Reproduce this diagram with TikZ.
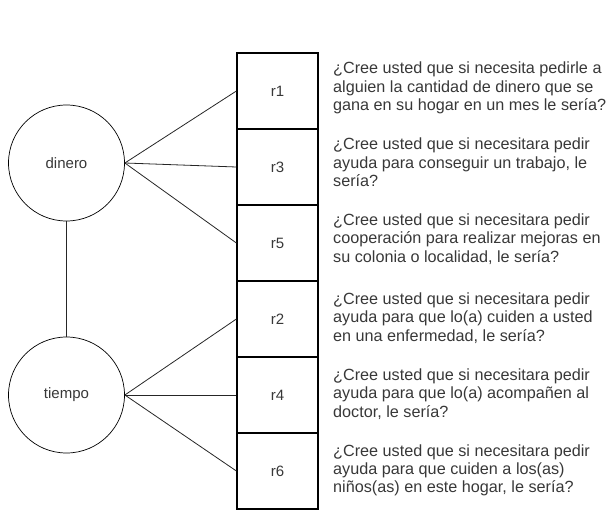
\documentclass[tikz,border=0pt]{standalone}
\usepackage{fontspec}
\setmainfont{Liberation Sans}
\definecolor{txt}{HTML}{383838}
\begin{document}
\begin{tikzpicture}[x=1pt,y=-1pt,
  rbox/.style={draw=black,line width=1.2pt,minimum width=81pt,minimum height=76pt,inner sep=0pt,text=txt,font=\fontsize{15}{18}\selectfont},
  fac/.style={circle,draw=black,line width=0.7pt,minimum size=116pt,inner sep=0pt,text=txt,font=\fontsize{15}{18}\selectfont},
  q/.style={anchor=west,align=left,inner sep=0pt,text=txt,font=\fontsize{16.2}{18.3}\selectfont},
  con/.style={draw=black!85,line width=0.8pt}]
\useasboundingbox (0,0) rectangle (610,513);
\node[rbox] (r1) at (277.5,91) {r1};
\node[rbox] (r3) at (277.5,167) {r3};
\node[rbox] (r5) at (277.5,243) {r5};
\node[rbox] (r2) at (277.5,319) {r2};
\node[rbox] (r4) at (277.5,395) {r4};
\node[rbox] (r6) at (277.5,471) {r6};
\node[fac] (dinero) at (66.5,163) {dinero};
\node[fac] (tiempo) at (66.5,395) {tiempo};
\draw[con] (dinero.south) -- (tiempo.north);
\foreach \r in {r1,r3,r5} \draw[con] (dinero.east) -- (\r.west);
\foreach \r in {r2,r4,r6} \draw[con] (tiempo.east) -- (\r.west);
\node[q] (q1) at (333,88) {¿Cree usted que si necesita pedirle a\\alguien la cantidad de dinero que se\\gana en su hogar en un mes le sería?};
\node[q] (q3) at (333,162.5) {¿Cree usted que si necesitara pedir\\ayuda para conseguir un trabajo, le\\sería?};
\node[q] (q5) at (333,239) {¿Cree usted que si necesitara pedir\\cooperación para realizar mejoras en\\su colonia o localidad, le sería?};
\node[q] (q2) at (333,318) {¿Cree usted que si necesitara pedir\\ayuda para que lo(a) cuiden a usted\\en una enfermedad, le sería?};
\node[q] (q4) at (333,394) {¿Cree usted que si necesitara pedir\\ayuda para que lo(a) acompañen al\\doctor, le sería?};
\node[q] (q6) at (333,470.5) {¿Cree usted que si necesitara pedir\\ayuda para que cuiden a los(as)\\niños(as) en este hogar, le sería?};
\end{tikzpicture}
\end{document}
